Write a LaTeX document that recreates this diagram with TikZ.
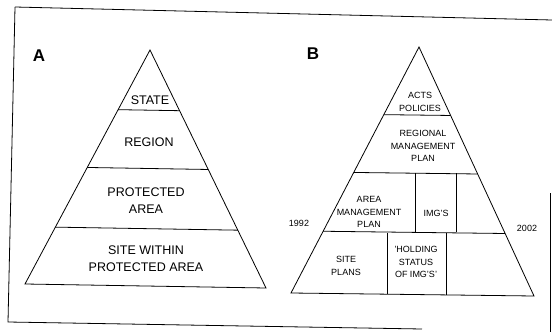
\documentclass[tikz,border=0pt]{standalone}
\usepackage{fontspec}
\setmainfont{Liberation Sans}
\usetikzlibrary{calc}
\tikzset{
  level/.style={font=\fontsize{12.5}{17}\selectfont, align=center, inner sep=0pt},
  small/.style={font=\fontsize{9}{12.5}\selectfont, align=center, inner sep=0pt},
  panel/.style={font=\fontsize{17}{17}\selectfont\bfseries, inner sep=0pt},
}
\begin{document}
\begin{tikzpicture}[x=1pt, y=-1pt, line width=0.8pt]
\useasboundingbox (0,0) rectangle (552,332);

% frame of the page
\draw (15,7) -- (552,20);
\draw (15,7) -- (8,322) -- (422,329);
\draw (550,193) -- (550,332);

% pyramid A
\node[panel] (lblA) at (39,56) {A};
\coordinate (aTop) at (150,50);
\coordinate (aBL) at (25,284);
\coordinate (aBR) at (266,288);
\draw (aTop) -- (aBL) -- (aBR) -- cycle;
\foreach \t [count=\i] in {0.255,0.502,0.757} {
  \coordinate (aL\i) at ($(aTop)!\t!(aBL)$);
  \coordinate (aR\i) at ($(aTop)!\t!(aBR)$);
  \draw (aL\i) -- (aR\i);
}
\node[level] (state) at (150,100) {STATE};
\node[level] (region) at (149,142) {REGION};
\node[level] (protarea) at (146,201) {PROTECTED\\AREA};
\node[level] (site) at (146,259) {SITE WITHIN\\PROTECTED AREA};

% pyramid B
\node[panel] (lblB) at (313,54) {B};
\coordinate (bTop) at (419,47);
\coordinate (bBL) at (291,293);
\coordinate (bBR) at (534,296);
\draw (bTop) -- (bBL) -- (bBR) -- cycle;
\foreach \t [count=\i] in {0.275,0.51,0.749} {
  \coordinate (bL\i) at ($(bTop)!\t!(bBL)$);
  \coordinate (bR\i) at ($(bTop)!\t!(bBR)$);
  \draw (bL\i) -- (bR\i);
}
\coordinate (v1t) at (415,173); \coordinate (v1b) at (415,232);
\coordinate (v2t) at (456,173); \coordinate (v2b) at (456,232);
\coordinate (v3t) at (387,233); \coordinate (v3b) at (387,294);
\coordinate (v4t) at (446,233); \coordinate (v4b) at (446,295);
\draw (v1t) -- (v1b);
\draw (v2t) -- (v2b);
\draw (v3t) -- (v3b);
\draw (v4t) -- (v4b);

\node[small] (acts) at (420,102) {ACTS\\POLICIES};
\node[small] (regplan) at (423,146) {REGIONAL\\MANAGEMENT\\PLAN};
\node[small] (areaplan) at (369,212) {AREA\\MANAGEMENT\\PLAN};
\node[small] (imgs) at (436,213) {IMG'S};
\node[small] (siteplans) at (346,266) {SITE\\PLANS};
\node[small] (holding) at (416,262) {'HOLDING\\STATUS\\OF IMG'S'};
\node[small] (yrold) at (299,223) {1992};
\node[small] (yrnew) at (527,228) {2002};

\end{tikzpicture}
\end{document}
